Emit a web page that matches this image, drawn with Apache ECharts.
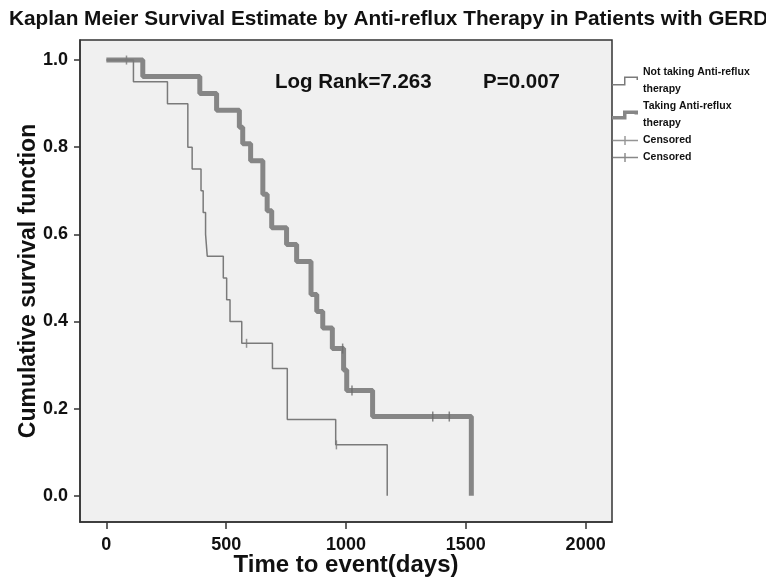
<!DOCTYPE html>
<html>
<head>
<meta charset="utf-8">
<title>Kaplan Meier Survival Estimate</title>
<script src="https://cdn.jsdelivr.net/npm/echarts@6.0.0/dist/echarts.min.js"></script>
<style>
  html, body { margin: 0; padding: 0; background: #fff; }
  #main { width: 766px; height: 577px; }
</style>
</head>
<body>
<div id="main"></div>
<script>
// Not taking anti-reflux therapy (thin line)
var notTakingDays = [0, 113, 255, 340, 358, 395, 404, 414, 421, 488, 502, 516, 565, 693, 755, 957, 1172];
var notTakingSurv = [1.0, 0.95, 0.90, 0.80, 0.75, 0.70, 0.65, 0.60, 0.55, 0.50, 0.45, 0.40, 0.35, 0.292, 0.175, 0.117, 0];
var notTakingCensorDays = [84, 585, 960];
var notTakingCensorSurv = [1.0, 0.35, 0.117];

// Taking anti-reflux therapy (thick line)
var takingDays = [0, 152, 390, 460, 555, 569, 602, 653, 671, 690, 752, 794, 854, 878, 903, 943, 990, 1003, 1111, 1523];
var takingSurv = [1.0, 0.962, 0.923, 0.885, 0.846, 0.808, 0.769, 0.692, 0.654, 0.615, 0.577, 0.538, 0.462, 0.423, 0.385, 0.338, 0.289, 0.242, 0.182, 0];
var takingCensorDays = [986, 1025, 1362, 1431];
var takingCensorSurv = [0.338, 0.242, 0.182, 0.182];

var xTicks = [0, 500, 1000, 1500, 2000];
var yTicks = [0, 0.2, 0.4, 0.6, 0.8, 1.0];

var legendNames = ['Not taking Anti-reflux\ntherapy', 'Taking Anti-reflux\ntherapy', 'Censored1', 'Censored2'];

function pairs(xs, ys) {
    var out = [];
    for (var i = 0; i < xs.length; i++) out.push([xs[i], ys[i]]);
    return out;
}

var font = "'Liberation Sans', Arial, sans-serif";

var option = {
    animation: false,
    backgroundColor: '#fff',
    title: {
        text: 'Kaplan Meier Survival Estimate by Anti-reflux Therapy in Patients with GERD',
        left: 9,
        top: 9,
        padding: 0,
        textStyle: { fontFamily: font, fontWeight: 'bold', fontSize: 20.8, color: '#111' }
    },
    grid: {
        left: 80, top: 40, right: 154, bottom: 55,
        outerBoundsMode: 'none',
        show: true,
        backgroundColor: '#f0f0f0',
        borderColor: '#333',
        borderWidth: 1.5
    },
    legend: {
        orient: 'vertical',
        left: 612,
        top: 64,
        padding: 0,
        itemGap: 0,
        itemWidth: 26,
        itemHeight: 9,
        formatter: function(name) {
            return name.indexOf('Censored') === 0 ? 'Censored' : name;
        },
        textStyle: { fontFamily: font, fontWeight: 'bold', fontSize: 10.5, lineHeight: 17, color: '#111' },
        data: [
            { name: legendNames[0], icon: 'path://M0,7.5H12V0H26V3.5H24.5V1.5H13.5V9H0Z' },
            { name: legendNames[1], icon: 'path://M0,5.5H11V0H26V4H22.5V3.5H14.5V9H0Z' },
            { name: legendNames[2], icon: 'path://M0,3.8H12.3V0H13.7V3.8H26V5.2H13.7V9H12.3V5.2H0Z' },
            { name: legendNames[3], icon: 'path://M0,3.8H12.3V0H13.7V3.8H26V5.2H13.7V9H12.3V5.2H0Z' }
        ]
    },
    xAxis: {
        type: 'value',
        min: -110,
        max: 2110,
        name: 'Time to event(days)',
        nameLocation: 'middle',
        nameMoveOverlap: false,
        nameGap: 31,
        nameTextStyle: { fontFamily: font, fontWeight: 'bold', fontSize: 24, color: '#111' },
        splitLine: { show: false },
        axisLine: { onZero: false, lineStyle: { color: '#333', width: 1.5 } },
        axisTick: { customValues: xTicks, length: 7, lineStyle: { color: '#333', width: 1.5 } },
        axisLabel: {
            customValues: xTicks,
            margin: 14,
            formatter: function(v) { return String(v); },
            fontFamily: font, fontWeight: 'bold', fontSize: 18, color: '#111'
        }
    },
    yAxis: {
        type: 'value',
        min: -0.06,
        max: 1.046,
        name: 'Cumulative survival function',
        nameLocation: 'middle',
        nameMoveOverlap: false,
        nameGap: 40,
        nameTextStyle: { fontFamily: font, fontWeight: 'bold', fontSize: 23, color: '#111' },
        splitLine: { show: false },
        axisLine: { onZero: false, lineStyle: { color: '#333', width: 1.5 } },
        axisTick: { customValues: yTicks, length: 6, lineStyle: { color: '#333', width: 1.5 } },
        axisLabel: {
            customValues: yTicks,
            margin: 12,
            formatter: function(v) { return v.toFixed(1); },
            fontFamily: font, fontWeight: 'bold', fontSize: 18, color: '#111'
        }
    },
    graphic: [
        { type: 'text', left: 275, top: 72,
          style: { text: 'Log Rank=7.263', font: 'bold 20.5px ' + font, fill: '#111' } },
        { type: 'text', left: 483, top: 72,
          style: { text: 'P=0.007', font: 'bold 20.5px ' + font, fill: '#111' } }
    ],
    series: [
        {
            name: legendNames[0],
            type: 'line',
            step: 'end',
            symbol: 'none',
            color: '#7a7a7a',
            lineStyle: { width: 1.5, color: '#7a7a7a' },
            data: pairs(notTakingDays, notTakingSurv),
            z: 3
        },
        {
            name: legendNames[1],
            type: 'line',
            step: 'end',
            symbol: 'none',
            color: '#868686',
            lineStyle: { width: 5, color: '#868686' },
            data: pairs(takingDays, takingSurv),
            z: 2
        },
        {
            name: legendNames[2],
            type: 'scatter',
            symbol: 'rect',
            symbolSize: [1.5, 9],
            color: '#7a7a7a',
            data: pairs(notTakingCensorDays, notTakingCensorSurv),
            z: 4
        },
        {
            name: legendNames[3],
            type: 'scatter',
            symbol: 'rect',
            symbolSize: [1.5, 10],
            color: '#6a6a6a',
            data: pairs(takingCensorDays, takingCensorSurv),
            z: 4
        }
    ]
};

var myChart = echarts.init(document.getElementById('main'));
myChart.setOption(option);
</script>
</body>
</html>
